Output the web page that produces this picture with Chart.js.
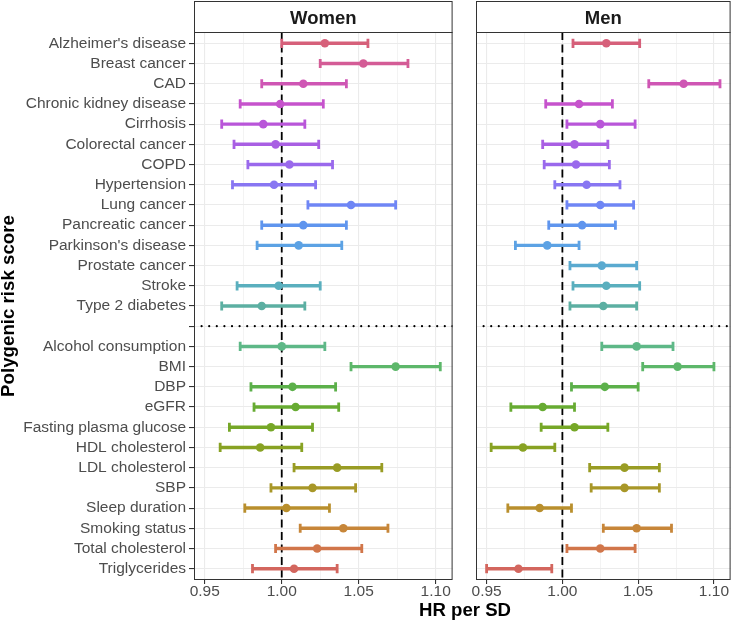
<!DOCTYPE html>
<html><head><meta charset="utf-8">
<script src="https://cdn.jsdelivr.net/npm/chart.js@4"></script>
<style>
html,body{margin:0;padding:0;background:#fff;}
#wrap{position:relative;width:738px;height:625px;overflow:hidden;font-family:"Liberation Sans",Arial,Helvetica,sans-serif;}
canvas{position:absolute;top:0;}
#xt{position:absolute;left:365px;width:200px;top:599px;text-align:center;font-weight:bold;font-size:18.6px;line-height:22px;color:#000;white-space:nowrap;}
</style></head><body>
<div id="wrap">
<canvas id="cw" width="460" height="625" style="left:0"></canvas>
<canvas id="cm" width="278" height="625" style="left:460px"></canvas>
<div id="xt">HR per SD</div>
</div>
<script>
// ---- data ----
const diseaseLabels = ["Alzheimer's disease","Breast cancer","CAD","Chronic kidney disease","Cirrhosis","Colorectal cancer","COPD","Hypertension","Lung cancer","Pancreatic cancer","Parkinson's disease","Prostate cancer","Stroke","Type 2 diabetes"];
const traitLabels = ["Alcohol consumption","BMI","DBP","eGFR","Fasting plasma glucose","HDL cholesterol","LDL cholesterol","SBP","Sleep duration","Smoking status","Total cholesterol","Triglycerides"];
const categories = [...diseaseLabels, "", ...traitLabels]; // "" = separator slot
const panelTitles = ["Women", "Men"];
const xTickValues = [0.95, 0.975, 1.00, 1.025, 1.05, 1.075, 1.10];
const xTickLabels = ["0.95", "", "1.00", "", "1.05", "", "1.10"];

// women: diseases (14), separator, traits (12)
const womenHR = [1.028,1.053,1.014,0.999,0.988,0.996,1.005,0.995,1.045,1.014,1.011,null,0.998,0.987, null, 1.000,1.074,1.007,1.009,0.993,0.986,1.036,1.020,1.003,1.040,1.023,1.008];
const womenLo = [1.000,1.025,0.987,0.973,0.961,0.969,0.978,0.968,1.017,0.987,0.984,null,0.971,0.961, null, 0.973,1.045,0.980,0.982,0.966,0.960,1.008,0.993,0.976,1.012,0.996,0.981];
const womenHi = [1.056,1.082,1.042,1.027,1.015,1.024,1.033,1.022,1.074,1.042,1.039,null,1.025,1.015, null, 1.028,1.103,1.035,1.037,1.020,1.013,1.065,1.048,1.031,1.069,1.052,1.036];

const menHR = [1.029,null,1.080,1.011,1.025,1.008,1.009,1.016,1.025,1.013,0.990,1.026,1.029,1.027, null, 1.049,1.076,1.028,0.987,1.008,0.974,1.041,1.041,0.985,1.049,1.025,0.971];
const menLo = [1.007,null,1.057,0.989,1.003,0.987,0.988,0.995,1.003,0.991,0.969,1.005,1.007,1.005, null, 1.026,1.053,1.006,0.966,0.986,0.953,1.018,1.019,0.964,1.027,1.003,0.950];
const menHi = [1.051,null,1.104,1.033,1.048,1.030,1.031,1.038,1.047,1.035,1.011,1.049,1.051,1.049, null, 1.073,1.100,1.050,1.008,1.030,0.995,1.064,1.064,1.006,1.072,1.048,0.993];

const refHR = 1.0;
const xMin = 0.943, xMax = 1.111;
const yMin = -0.56, yMax = categories.length - 1 + 0.56;
const sepIndex = diseaseLabels.length;

// ---- styles ----
const rowColors = [
  "#D6607A","#D45C96","#CF56B4","#C653CC","#B956D9","#A95FE3","#9A69EC","#8876F2",
  "#6F86F5","#5F95EE","#5CA2E4","#5AAAD0","#5AAFBE","#5CAFA2", null,
  "#5EB887","#5DB76A","#5CB04A","#67AB32","#76A727","#88A223","#999C24","#A89728",
  "#B98F2D","#C78639","#D1764A","#D3665E"
];
const FONT = '"Liberation Sans", Arial, Helvetica, sans-serif';
Chart.defaults.font.family = FONT;

function buildDatasets(hr, lo, hi) {
  const pts = [], ptCols = [], caps = [], capCols = [], bars = [], barCols = [];
  for (let i = 0; i < categories.length; i++) {
    if (hr[i] == null) continue;
    const col = rowColors[i];
    pts.push({x: hr[i], y: i}); ptCols.push(col);
    caps.push({x: lo[i], y: i}); capCols.push(col);
    caps.push({x: hi[i], y: i}); capCols.push(col);
    bars.push({x: [lo[i], hi[i]], y: i}); barCols.push(col);
  }
  return [
    {type: 'scatter', data: pts, pointRadius: 4.3, pointBorderWidth: 0, pointBackgroundColor: ptCols, pointBorderColor: ptCols, order: 0},
    {type: 'scatter', data: caps, pointStyle: 'line', pointRotation: 90, pointRadius: 4.6, pointBorderWidth: 2.8, pointBorderColor: capCols, pointBackgroundColor: capCols, order: 1},
    {type: 'bar', indexAxis: 'y', data: bars, backgroundColor: barCols, borderWidth: 0, barThickness: 2.8, grouped: false, order: 2},
    {type: 'scatter', showLine: true, data: [{x: refHR, y: yMin}, {x: refHR, y: yMax}], borderColor: '#000', borderWidth: 1.8, borderDash: [8, 4.5], pointRadius: 0, order: 3},
    {type: 'scatter', showLine: true, data: [{x: xMin, y: sepIndex}, {x: xMax, y: sepIndex}], borderColor: '#000', borderWidth: 2.2, borderDash: [0, 7.6], borderCapStyle: 'round', pointRadius: 0, order: 4}
  ];
}

const panelPlugin = {
  id: 'panelDeco',
  afterDraw(chart, args, opts) {
    const {ctx, chartArea: a} = chart;
    ctx.save();
    ctx.fillStyle = '#fff';
    ctx.fillRect(a.left, 1.5, a.right - a.left, a.top - 1.5);
    ctx.strokeStyle = '#333';
    ctx.lineWidth = 1;
    ctx.strokeRect(a.left + 0.5, 1.5, a.right - a.left - 1, a.top - 1);
    ctx.fillStyle = '#1a1a1a';
    ctx.font = 'bold 18.5px ' + FONT;
    ctx.textAlign = 'center';
    ctx.textBaseline = 'alphabetic';
    ctx.fillText(opts.title, (a.left + a.right) / 2, 23.5);
    ctx.strokeRect(a.left + 0.5, a.top + 0.5, a.right - a.left - 1, a.bottom - a.top - 1);
    ctx.restore();
  }
};

function makeChart(canvasId, hr, lo, hi, title, showY, yWidth, padRight) {
  return new Chart(document.getElementById(canvasId), {
    type: 'scatter',
    data: {datasets: buildDatasets(hr, lo, hi)},
    plugins: [panelPlugin],
    options: {
      responsive: false, animation: false, events: [],
      layout: {padding: {top: 32, right: padRight, bottom: 0, left: 0}},
      plugins: {legend: {display: false}, tooltip: {enabled: false}, panelDeco: {title: title}},
      scales: {
        x: {
          type: 'linear', min: xMin, max: xMax, bounds: 'data', offset: false,
          afterBuildTicks: s => { s.ticks = xTickValues.map(v => ({value: v})); },
          ticks: {
            callback: (v, i) => xTickLabels[i], autoSkip: false, maxRotation: 0, minRotation: 0,
            font: {size: 15.5}, color: '#4d4d4d', padding: -2
          },
          grid: {
            offset: false, color: '#ebebeb',
            lineWidth: c => (xTickLabels[c.index] ? 1.1 : 0.6),
            tickColor: c => (xTickLabels[c.index] ? '#333' : 'rgba(0,0,0,0)'),
            tickWidth: c => (xTickLabels[c.index] ? 1.1 : 0),
            tickLength: 4
          },
          border: {display: false},
          afterFit: s => { s.height = 45; }
        },
        y: {
          type: 'linear', reverse: true, min: yMin, max: yMax, bounds: 'data', offset: false,
          afterBuildTicks: s => { s.ticks = categories.map((_, i) => ({value: i})); },
          ticks: {
            display: showY, callback: (v, i) => categories[i], autoSkip: false,
            font: {size: 15.5}, color: '#4d4d4d', padding: 3
          },
          grid: {offset: false, color: '#ebebeb', lineWidth: 1.1, tickColor: '#333', tickLength: 5, drawTicks: showY},
          border: {display: false},
          title: {display: showY, text: 'Polygenic risk score', color: '#000', font: {size: 18.7, weight: 'bold', lineHeight: 1}, padding: 0},
          afterFit: s => { s.width = yWidth; }
        }
      }
    }
  });
}

makeChart('cw', womenHR, womenLo, womenHi, panelTitles[0], true, 194, 7);
makeChart('cm', menHR, menLo, menHi, panelTitles[1], false, 16, 2);
</script>
</body></html>
